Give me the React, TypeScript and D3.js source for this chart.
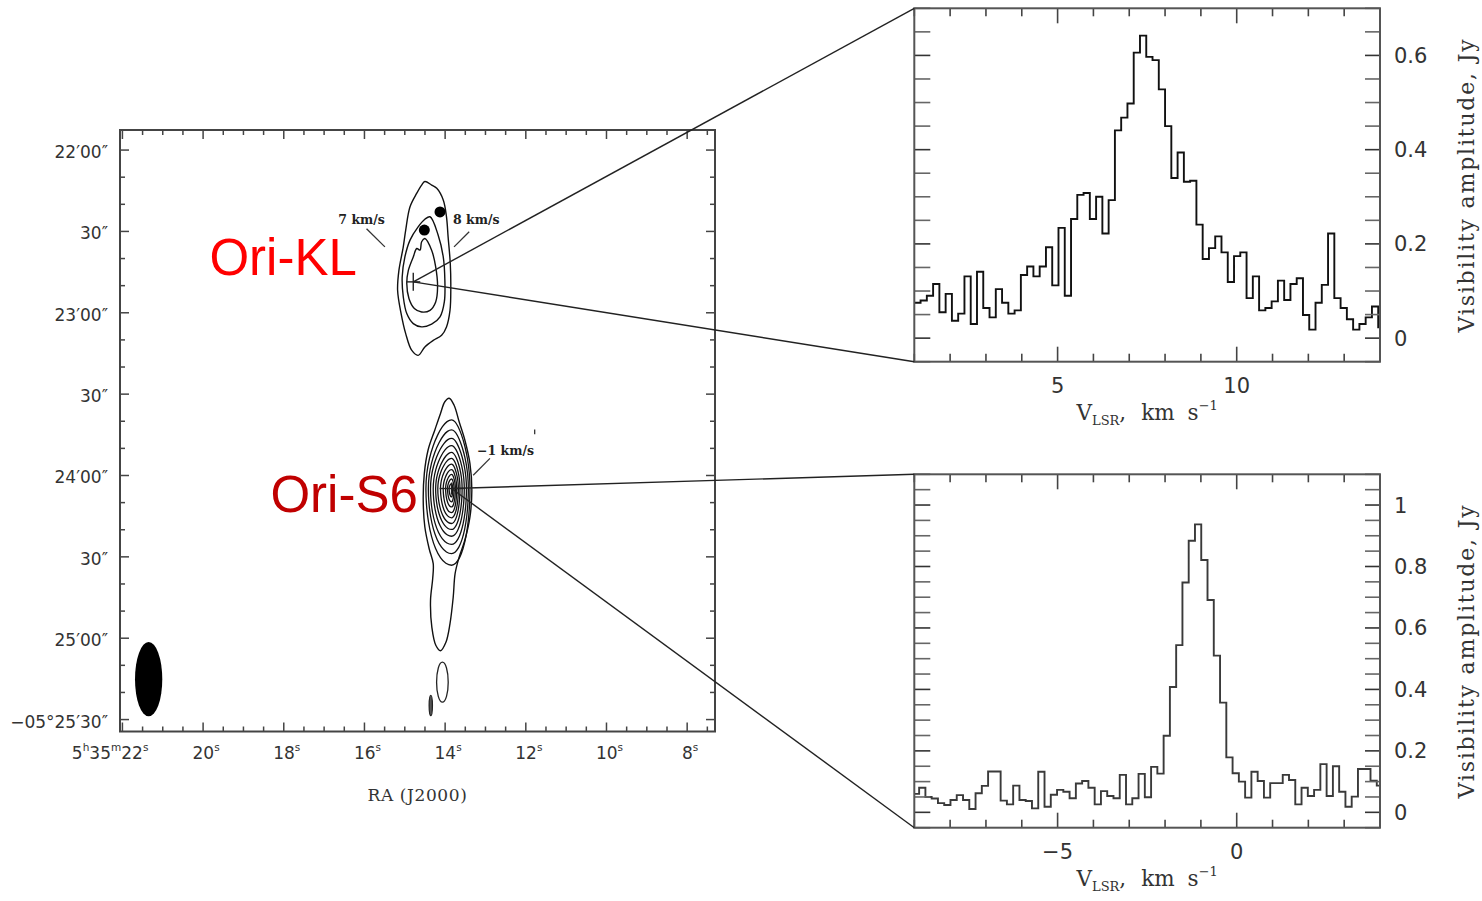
import React from "react";
import * as d3 from "d3";

const W = 1482;
const H = 901;

// ---------- Spectra: visibility amplitude (Jy) per velocity channel ----------
const klChannelStart = 1.0; // km/s, left edge of first channel
const klChannelWidth = 0.175;
const klVelDomain = [1, 14];
const klAmpDomain = [-0.05, 0.7];
const klAmplitude = [
  0.075, 0.08, 0.09, 0.115, 0.055, 0.094, 0.037, 0.052, 0.131, 0.03,
  0.141, 0.064, 0.044, 0.104, 0.075, 0.052, 0.059, 0.134, 0.152, 0.131,
  0.152, 0.193, 0.112, 0.234, 0.09, 0.253, 0.304, 0.308, 0.253, 0.3,
  0.222, 0.293, 0.441, 0.468, 0.498, 0.606, 0.642, 0.597, 0.59, 0.528,
  0.45, 0.34, 0.394, 0.332, 0.334, 0.241, 0.168, 0.191, 0.216, 0.182,
  0.119, 0.174, 0.182, 0.085, 0.131, 0.059, 0.064, 0.078, 0.122, 0.081,
  0.115, 0.127, 0.049, 0.018, 0.075, 0.113, 0.222, 0.085, 0.064, 0.04,
  0.018, 0.03, 0.044, 0.067, 0.023,
];
const klVelLabelValues = [5, 10];
const klVelLabels = ["5", "10"];
const klAmpLabelValues = [0, 0.2, 0.4, 0.6];
const klAmpLabels = ["0", "0.2", "0.4", "0.6"];

const s6ChannelStart = -9.04;
const s6ChannelWidth = 0.175;
const s6VelDomain = [-9, 4];
const s6AmpDomain = [-0.05, 1.1];
const s6Amplitude = [
  0.06, 0.08, 0.05, 0.045, 0.03, 0.024, 0.04, 0.056, 0.04, 0.011,
  0.062, 0.086, 0.133, 0.133, 0.038, 0.026, 0.087, 0.04, 0.037, 0.013,
  0.132, 0.018, 0.057, 0.073, 0.067, 0.046, 0.094, 0.102, 0.08, 0.026,
  0.069, 0.053, 0.046, 0.122, 0.026, 0.046, 0.125, 0.049, 0.148, 0.126,
  0.249, 0.408, 0.544, 0.748, 0.884, 0.937, 0.821, 0.691, 0.51, 0.357,
  0.179, 0.127, 0.1, 0.048, 0.132, 0.102, 0.048, 0.095, 0.095, 0.122,
  0.105, 0.026, 0.08, 0.053, 0.073, 0.157, 0.053, 0.15, 0.067, 0.018,
  0.051, 0.141, 0.141, 0.103, 0.087,
];
const s6VelLabelValues = [-5, 0];
const s6VelLabels = ["\u22125", "0"];
const s6AmpLabelValues = [0, 0.2, 0.4, 0.6, 0.8, 1];
const s6AmpLabels = ["0", "0.2", "0.4", "0.6", "0.8", "1"];

// ---------- Map: RA seconds of 5h35m, Dec arcsec south of -05°22'00" ----------
const mapRaDomain = [22.06, 7.31];
const mapDecDomain = [-7.4, 214.4];
const decLabelValues = [0, 30, 60, 90, 120, 150, 180, 210];
const decLabels = [
  "22\u203200\u2033", "30\u2033", "23\u203200\u2033", "30\u2033",
  "24\u203200\u2033", "30\u2033", "25\u203200\u2033", "\u221205\u00b025\u203230\u2033",
];
const raLabelValues = [22, 20, 18, 16, 14, 12, 10, 8];
const raLabels = ["5^h35^m22^s", "20^s", "18^s", "16^s", "14^s", "12^s", "10^s", "8^s"];

const sourceNames = ["Ori-KL", "Ori-S6"];
const sourceRa = [14.79, 13.84];
const sourceDec = [48.6, 124.8];
const sourceColors = ["#ff0000", "#c00000"];

// Contour vertices: offsets in arcsec from the source (x to the west, y to the south)
const klContours: [number, number][][] = [
  [
    [4.3, -37.0], [6.8, -35.7], [8.7, -34.5], [11.1, -30.2], [12.3, -24.0], [12.9, -16.6],
    [13.7, -6.8], [13.9, 1.8], [13.6, 10.5], [12.3, 16.6], [10.5, 19.7], [7.4, 21.6],
    [4.3, 24.0], [1.8, 27.1], [-0.6, 25.2], [-2.8, 19.1], [-4.5, 11.7], [-5.8, 3.1],
    [-5.3, -4.3], [-3.7, -12.9], [-2.8, -19.1], [-1.2, -27.7], [1.3, -32.7], [3.1, -35.7],
  ],
  [
    [6.2, -24.0], [9.2, -17.3], [11.1, -9.2], [11.7, -0.6], [11.5, 7.4], [9.9, 12.9],
    [6.8, 15.6], [3.1, 16.6], [0, 15.4], [-2.4, 11.7], [-3.7, 5.5], [-4.1, -1.8],
    [-3.1, -9.2], [-1.2, -15.4], [1.8, -20.3], [4.3, -23.1],
  ],
  [
    [4.3, -16.0], [6.8, -11.7], [8.3, -5.5], [9.0, 1.8], [8.3, 7.4], [6.2, 10.5],
    [3.1, 11.1], [0.4, 9.8], [-1.6, 6.1], [-2.4, 0.6], [-1.8, -4.3], [0, -9.2],
    [1.3, -12.3], [2.5, -11.7], [3.1, -14.8],
  ],
];
const klMaserDots: [number, number][] = [[4.1, -19.1], [9.9, -25.8]];

const s6OuterContour: [number, number][] = [
  [-0.9, -33.3], [0.9, -30.8], [2.8, -24.6], [4.9, -17.9], [6.8, -9.2], [7.5, 0.6],
  [6.8, 10.5], [4.9, 19.1], [2.8, 25.3], [1.3, 31.4], [0.6, 40.1], [-0.6, 49.9],
  [-2.1, 56.7], [-4.1, 59.8], [-5.8, 57.9], [-7.3, 51.2], [-7.8, 41.3], [-7.0, 33.3],
  [-6.8, 27.7], [-8.3, 22.2], [-9.9, 14.2], [-10.5, 4.3], [-10.1, -5.5], [-8.7, -14.2],
  [-6.2, -21.6], [-4.1, -27.7], [-2.5, -32.0],
];
// Inner nested contours of Ori-S6: extents (arcsec) east, west, north, south
const s6InnerEast = [-9.5, -8.6, -7.8, -6.8, -5.9, -5.1, -4.1, -3.1, -2.2, -1.5, -0.9];
const s6InnerWest = [6.8, 6.2, 5.5, 4.7, 3.9, 3.1, 2.5, 1.9, 1.4, 0.9, 0.4];
const s6InnerNorth = [-25.3, -21.6, -18.5, -15.8, -13.3, -11.1, -9.0, -7.0, -5.2, -3.5, -1.8];
const s6InnerSouth = [28.3, 24.0, 20.6, 17.6, 15.1, 12.9, 10.8, 8.9, 6.8, 4.9, 3.1];
// Small isolated contours south of Ori-S6: centre offset and semi-axes (arcsec)
const s6BlobCenters: [number, number][] = [[-3.4, 71.4], [-7.7, 80.0]];
const s6BlobAxes: [number, number][] = [[2.15, 7.4], [0.6, 3.7]];

// Synthesized beam: centre (RA s, Dec offset) and semi-axes (arcsec)
const beamRa = 21.35;
const beamDec = 195.1;
const beamAxes = [5.05, 13.7];

// Velocity annotations: [text, text anchor offset, leader start, leader end]
const velNoteSource = [0, 0, 1];
const velNoteText = ["7 km/s", "8 km/s", "\u22121 km/s"];
const velNoteAnchor = ["end", "start", "start"];
const velNoteTextPos: [number, number][] = [[-10.5, -21.3], [14.7, -21.3], [9.4, -12.3]];
const velNoteLeader: [number, number, number, number][] = [
  [-17.3, -19.6, -10.5, -12.9],
  [20.7, -18.5, 15.1, -12.9],
  [14.2, -11.1, 8.0, -4.9],
];
const sourceLabelPos: [number, number][] = [[-20.9, -2.5], [-12.5, 8.7]];

const RA_S_PER_ARCSEC = 1 / (15 * Math.cos((5.37 * Math.PI) / 180));

const SANS = "'DejaVu Sans', 'Liberation Sans', sans-serif";
const SERIF = "'DejaVu Serif', 'Liberation Serif', serif";
const ARIAL = "'Liberation Sans', Arial, sans-serif";

function superscriptLabel(label: string, size: number) {
  const parts: React.ReactNode[] = [];
  let i = 0;
  let k = 0;
  let raised = false;
  while (i < label.length) {
    if (label[i] === "^") {
      parts.push(
        <tspan key={k++} fontSize={size * 0.62} dy={-size * 0.42}>
          {label[i + 1]}
        </tspan>
      );
      raised = true;
      i += 2;
    } else {
      let j = i;
      while (j < label.length && label[j] !== "^") j++;
      parts.push(
        <tspan key={k++} dy={raised ? size * 0.42 : 0}>
          {label.slice(i, j)}
        </tspan>
      );
      raised = false;
      i = j;
    }
  }
  return parts;
}

type SpecProps = {
  id: string;
  velDomain: number[];
  ampDomain: number[];
  values: number[];
  chanStart: number;
  chanWidth: number;
  velLabelValues: number[];
  velLabels: string[];
  ampLabelValues: number[];
  ampLabels: string[];
  top: number;
  lineColor: string;
};

function Spectrum(p: SpecProps) {
  const x = d3.scaleLinear().domain(p.velDomain).range([914.3, 1380]);
  const y = d3.scaleLinear().domain(p.ampDomain).range([p.top + 353.4, p.top]);
  const [x0, x1] = x.range();
  const [yb, yt] = y.range();
  const pts: [number, number][] = p.values.map((v, i) => [p.chanStart + i * p.chanWidth, v]);
  pts.push([p.chanStart + p.values.length * p.chanWidth, p.values[p.values.length - 1]]);
  const line = d3
    .line<[number, number]>()
    .x((d) => x(d[0]))
    .y((d) => y(d[1]))
    .curve(d3.curveStepAfter);
  const velTicks = d3.range(Math.ceil(p.velDomain[0]), Math.floor(p.velDomain[1]) + 1);
  const ampTicks = d3
    .range(Math.round(p.ampDomain[0] / 0.05), Math.round(p.ampDomain[1] / 0.05) + 1)
    .map((i) => +(i * 0.05).toFixed(2));
  const isMajorAmp = (v: number) => Math.abs(v / 0.2 - Math.round(v / 0.2)) < 1e-6;
  return (
    <g>
      <defs>
        <clipPath id={p.id}>
          <rect x={x0} y={yt} width={x1 - x0} height={yb - yt} />
        </clipPath>
      </defs>
      <path d={line(pts) || ""} fill="none" stroke={p.lineColor} strokeWidth={1.9} clipPath={`url(#${p.id})`} />
      {velTicks.map((v) => {
        const major = p.velLabelValues.includes(v);
        const len = major ? 15 : 8;
        return (
          <g key={"v" + v} stroke="#444" strokeWidth={1.6}>
            <line x1={x(v)} x2={x(v)} y1={yb} y2={yb - len} />
            <line x1={x(v)} x2={x(v)} y1={yt} y2={yt + len} />
          </g>
        );
      })}
      {ampTicks.map((v) => {
        const major = isMajorAmp(v);
        return (
          <g key={"a" + v} stroke={major ? "#333" : "#666"} strokeWidth={1.6}>
            <line x1={x0} x2={x0 + 16} y1={y(v)} y2={y(v)} />
            <line x1={x1} x2={x1 - 15} y1={y(v)} y2={y(v)} />
          </g>
        );
      })}
      <rect x={x0} y={yt} width={x1 - x0} height={yb - yt} fill="none" stroke="#555" strokeWidth={2} />
      {p.velLabelValues.map((v, i) => (
        <text key={"vl" + v} x={x(v)} y={yb + 31} textAnchor="middle" fontFamily={SANS} fontSize={21} fill="#333">
          {p.velLabels[i]}
        </text>
      ))}
      {p.ampLabelValues.map((v, i) => (
        <text key={"al" + v} x={x1 + 14} y={y(v) + 7.5} fontFamily={SANS} fontSize={21} fill="#333">
          {p.ampLabels[i]}
        </text>
      ))}
      <text x={(x0 + x1) / 2} y={yb + 58} textAnchor="middle" fontFamily={SERIF} fontSize={21.5} fill="#333">
        V
        <tspan fontSize={13} dy={5}>LSR</tspan>
        <tspan dy={-5}>,</tspan>
        <tspan dx={15}>km</tspan>
        <tspan dx={13}>s</tspan>
        <tspan fontSize={13} dy={-10}>{"\u22121"}</tspan>
      </text>
      <text
        transform={`translate(${x1 + 94},${(yt + yb) / 2}) rotate(-90)`}
        textAnchor="middle"
        fontFamily={SERIF}
        fontSize={22}
        letterSpacing={1.8}
        fill="#333"
      >
        Visibility amplitude, Jy
      </text>
    </g>
  );
}

export default function App() {
  const mx = d3.scaleLinear().domain(mapRaDomain).range([120, 715]);
  const my = d3.scaleLinear().domain(mapDecDomain).range([130, 731.5]);
  const [mx0, mx1] = mx.range();
  const [myt, myb] = my.range();

  const toXY = (s: number, dx: number, dy: number): [number, number] => [
    mx(sourceRa[s] - dx * RA_S_PER_ARCSEC),
    my(sourceDec[s] + dy),
  ];
  const pxPerArcsecX = Math.abs(mx(0) - mx(RA_S_PER_ARCSEC));
  const pxPerArcsecY = Math.abs(my(1) - my(0));

  const closed = d3.line<[number, number]>().curve(d3.curveCatmullRomClosed.alpha(0.5));
  const smooth = d3.line<[number, number]>().curve(d3.curveCardinalClosed.tension(0.2));

  // egg-shaped nested contour from its four extents
  const eggPoints = (k: number): [number, number][] =>
    d3.range(0, 28).map((i) => {
      const t = (i / 28) * Math.PI * 2;
      const c = Math.cos(t);
      const s = Math.sin(t);
      let ox = (c >= 0 ? s6InnerWest[k] : -s6InnerEast[k]) * c;
      const oy = (s >= 0 ? s6InnerSouth[k] : -s6InnerNorth[k]) * s;
      if (s < 0) ox *= 1 - 0.22 * s * s;
      return toXY(1, ox, oy);
    });

  const klPanelCorner = { x: 914.3, yTop: 8.3, yBot: 361.7 };
  const s6PanelCorner = { x: 914.3, yTop: 474.3, yBot: 827.7 };

  const decTicks = d3.range(0, 211, 10);
  const raTicks = d3.range(7.5, 22.01, 0.5);

  const kl = toXY(0, 0, 0);
  const s6 = toXY(1, 0, 0);

  return (
    <svg width={W} height={H} style={{ position: "absolute", left: 0, top: 0, background: "#fff" }}>
      <rect width={W} height={H} fill="#fff" />

      {/* ---------- map frame and ticks ---------- */}
      {decTicks.map((v) => {
        const major = v % 30 === 0;
        const len = major ? 9 : 5;
        return (
          <g key={"d" + v} stroke="#444" strokeWidth={1.5}>
            <line x1={mx0} x2={mx0 + len} y1={my(v)} y2={my(v)} />
            <line x1={mx1} x2={mx1 - len} y1={my(v)} y2={my(v)} />
          </g>
        );
      })}
      {raTicks.map((v) => {
        const major = Math.abs(v % 2) < 1e-6;
        const len = major ? 9 : 5;
        return (
          <g key={"r" + v} stroke="#444" strokeWidth={1.5}>
            <line x1={mx(v)} x2={mx(v)} y1={myb} y2={myb - len} />
            <line x1={mx(v)} x2={mx(v)} y1={myt} y2={myt + len} />
          </g>
        );
      })}
      <rect x={mx0} y={myt} width={mx1 - mx0} height={myb - myt} fill="none" stroke="#444" strokeWidth={2} />
      {decLabelValues.map((v, i) => (
        <text key={"dl" + v} x={108} y={my(v) + 8} textAnchor="end" fontFamily={SANS} fontSize={17} fill="#333">
          {decLabels[i]}
        </text>
      ))}
      {raLabelValues.map((v, i) => (
        <text
          key={"rl" + v}
          x={i === 0 ? mx(v) + 26 : mx(v) + 3}
          y={myb + 27}
          textAnchor={i === 0 ? "end" : "middle"}
          fontFamily={SANS}
          fontSize={17}
          fill="#333"
        >
          {superscriptLabel(raLabels[i], 17)}
        </text>
      ))}
      <text x={(mx0 + mx1) / 2} y={myb + 69} textAnchor="middle" fontFamily={SERIF} fontSize={17} letterSpacing={0.6} fill="#333">
        RA (J2000)
      </text>

      {/* ---------- beam ---------- */}
      <ellipse
        cx={mx(beamRa)}
        cy={my(beamDec)}
        rx={beamAxes[0] * pxPerArcsecX}
        ry={beamAxes[1] * pxPerArcsecY}
        fill="#000"
      />

      {/* ---------- Ori-KL contours ---------- */}
      {klContours.map((c, i) => (
        <path key={"klc" + i} d={closed(c.map(([dx, dy]) => toXY(0, dx, dy))) || ""} fill="none" stroke="#111" strokeWidth={1.4} />
      ))}
      {klMaserDots.map(([dx, dy], i) => {
        const [cx, cy] = toXY(0, dx, dy);
        return <circle key={"dot" + i} cx={cx} cy={cy} r={5.5} fill="#000" />;
      })}

      {/* ---------- Ori-S6 contours ---------- */}
      <path d={closed(s6OuterContour.map(([dx, dy]) => toXY(1, dx, dy))) || ""} fill="none" stroke="#111" strokeWidth={1.4} />
      {s6InnerEast.map((_, k) => (
        <path key={"s6c" + k} d={smooth(eggPoints(k)) || ""} fill="none" stroke="#111" strokeWidth={1.3} />
      ))}
      {s6BlobCenters.map(([dx, dy], i) => {
        const [cx, cy] = toXY(1, dx, dy);
        return (
          <ellipse
            key={"blob" + i}
            cx={cx}
            cy={cy}
            rx={s6BlobAxes[i][0] * pxPerArcsecX}
            ry={s6BlobAxes[i][1] * pxPerArcsecY}
            fill={i === 1 ? "#555" : "none"}
            stroke="#222"
            strokeWidth={1.3}
          />
        );
      })}
      <line x1={mx(11.78)} x2={mx(11.78)} y1={my(103)} y2={my(104.8)} stroke="#333" strokeWidth={1.3} />

      {/* ---------- source markers ---------- */}
      <g stroke="#222" strokeWidth={1.4}>
        <line x1={kl[0] - 7} x2={kl[0] + 7} y1={kl[1]} y2={kl[1]} />
        <line x1={kl[0]} x2={kl[0]} y1={kl[1] - 9} y2={kl[1] + 9} />
        <line x1={s6[0] - 12} x2={s6[0] + 12} y1={s6[1]} y2={s6[1]} />
        <line x1={s6[0]} x2={s6[0]} y1={s6[1] - 6} y2={s6[1] + 6} />
      </g>

      {/* ---------- velocity notes ---------- */}
      {velNoteText.map((t, i) => {
        const s = velNoteSource[i];
        const [tx, ty] = toXY(s, velNoteTextPos[i][0], velNoteTextPos[i][1]);
        const [lx1, ly1] = toXY(s, velNoteLeader[i][0], velNoteLeader[i][1]);
        const [lx2, ly2] = toXY(s, velNoteLeader[i][2], velNoteLeader[i][3]);
        return (
          <g key={"vn" + i}>
            <text x={tx} y={ty} textAnchor={velNoteAnchor[i]} fontFamily={SERIF} fontWeight="bold" fontSize={12.5} fill="#222">
              {t}
            </text>
            <line x1={lx1} y1={ly1} x2={lx2} y2={ly2} stroke="#333" strokeWidth={1.3} />
          </g>
        );
      })}

      {/* ---------- source names ---------- */}
      {sourceNames.map((n, i) => {
        const [tx, ty] = toXY(i, sourceLabelPos[i][0], sourceLabelPos[i][1]);
        return (
          <text key={n} x={tx} y={ty} textAnchor="end" fontFamily={ARIAL} fontSize={51} fill={sourceColors[i]}>
            {n}
          </text>
        );
      })}

      {/* ---------- spectra ---------- */}
      <Spectrum
        id="klclip"
        velDomain={klVelDomain}
        ampDomain={klAmpDomain}
        values={klAmplitude}
        chanStart={klChannelStart}
        chanWidth={klChannelWidth}
        velLabelValues={klVelLabelValues}
        velLabels={klVelLabels}
        ampLabelValues={klAmpLabelValues}
        ampLabels={klAmpLabels}
        top={8.3}
        lineColor="#111"
      />
      <Spectrum
        id="s6clip"
        velDomain={s6VelDomain}
        ampDomain={s6AmpDomain}
        values={s6Amplitude}
        chanStart={s6ChannelStart}
        chanWidth={s6ChannelWidth}
        velLabelValues={s6VelLabelValues}
        velLabels={s6VelLabels}
        ampLabelValues={s6AmpLabelValues}
        ampLabels={s6AmpLabels}
        top={474.3}
        lineColor="#3a3a3a"
      />

      {/* ---------- connectors from sources to their spectra ---------- */}
      <g stroke="#222" strokeWidth={1.4}>
        <line x1={kl[0]} y1={kl[1]} x2={klPanelCorner.x} y2={klPanelCorner.yTop} />
        <line x1={kl[0]} y1={kl[1]} x2={klPanelCorner.x} y2={klPanelCorner.yBot} />
        <line x1={s6[0]} y1={s6[1]} x2={s6PanelCorner.x} y2={s6PanelCorner.yTop} />
        <line x1={s6[0]} y1={s6[1]} x2={s6PanelCorner.x} y2={s6PanelCorner.yBot} />
      </g>
    </svg>
  );
}
